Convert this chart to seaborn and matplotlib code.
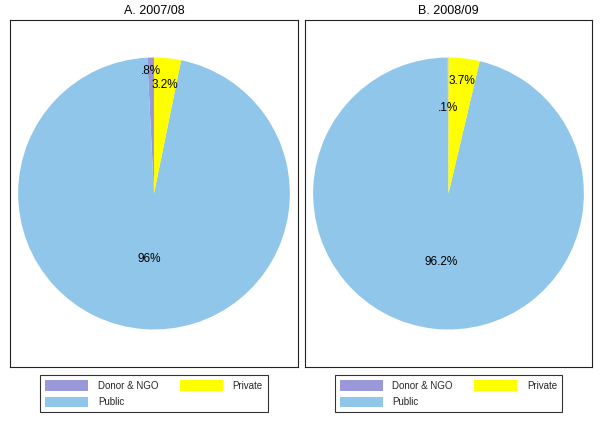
import numpy as np
import matplotlib
matplotlib.use("Agg")
import matplotlib.pyplot as plt
import matplotlib.patches as mpatches
import seaborn as sns

# Funding source shares (%), in drawing order (counterclockwise from 12 o'clock)
sources = ["Donor & NGO", "Public", "Private"]
share_0708 = [0.8, 96.0, 3.2]
share_0809 = [0.1, 96.2, 3.7]
titles = ["A. 2007/08", "B. 2008/09"]

colors = ["#9b98d9", "#8fc6ea", "#ffff00"]

sns.set_theme(style="white")
plt.rcParams["font.family"] = ["Liberation Sans", "DejaVu Sans"]

W, H = 600, 421
fig = plt.figure(figsize=(W / 100, H / 100), dpi=100)

# panel boxes in pixels: left, top, right, bottom
boxes = [(10, 20, 298, 367), (305, 20, 592, 367)]
label_r = [[0.9, 0.48, 0.8], [0.63, 0.51, 0.83]]


def fmt(v):
    s = f"{v:g}%"
    return s[1:] if s.startswith("0") else s


for i, (vals, title) in enumerate(zip([share_0708, share_0809], titles)):
    l, t, r, b = boxes[i]
    ax = fig.add_axes([l / W, 1 - b / H, (r - l) / W, (b - t) / H])
    wedges, _ = ax.pie(vals, colors=colors, startangle=90, counterclock=True,
                       radius=1, frame=True, wedgeprops=dict(linewidth=0))
    ax.set_aspect("equal", adjustable="datalim")
    ax.set_xlim(-1.06, 1.06)
    ax.set_ylim(-1.276, 1.276)
    ax.set_xticks([])
    ax.set_yticks([])
    for sp in ax.spines.values():
        sp.set_visible(True)
        sp.set_color("#222222")
        sp.set_linewidth(0.8)
    ax.set_title(title, fontsize=9, pad=4, color="black")

    # percentage labels inside the slices
    for w, v, rr in zip(wedges, vals, label_r[i]):
        mid = np.deg2rad((w.theta1 + w.theta2) / 2)
        ax.text(rr * np.cos(mid), rr * np.sin(mid), fmt(v),
                ha="center", va="center", fontsize=8.5, color="black")

    handles = [mpatches.Patch(facecolor=c, edgecolor="none", label=s)
               for c, s in zip(colors, sources)]
    cx = (l + r) / 2
    leg = fig.legend(handles=handles, ncol=2, loc="upper center",
                     bbox_to_anchor=(cx / W, 1 - 375 / H),
                     bbox_transform=fig.transFigure, fontsize=7,
                     frameon=True, fancybox=False, borderaxespad=0,
                     handlelength=4.4, handleheight=1.25, handletextpad=1.0,
                     columnspacing=2.2, labelspacing=0.6, borderpad=0.55)
    leg.get_frame().set_edgecolor("black")
    leg.get_frame().set_linewidth(0.8)

fig.savefig("out.png", dpi=100)
